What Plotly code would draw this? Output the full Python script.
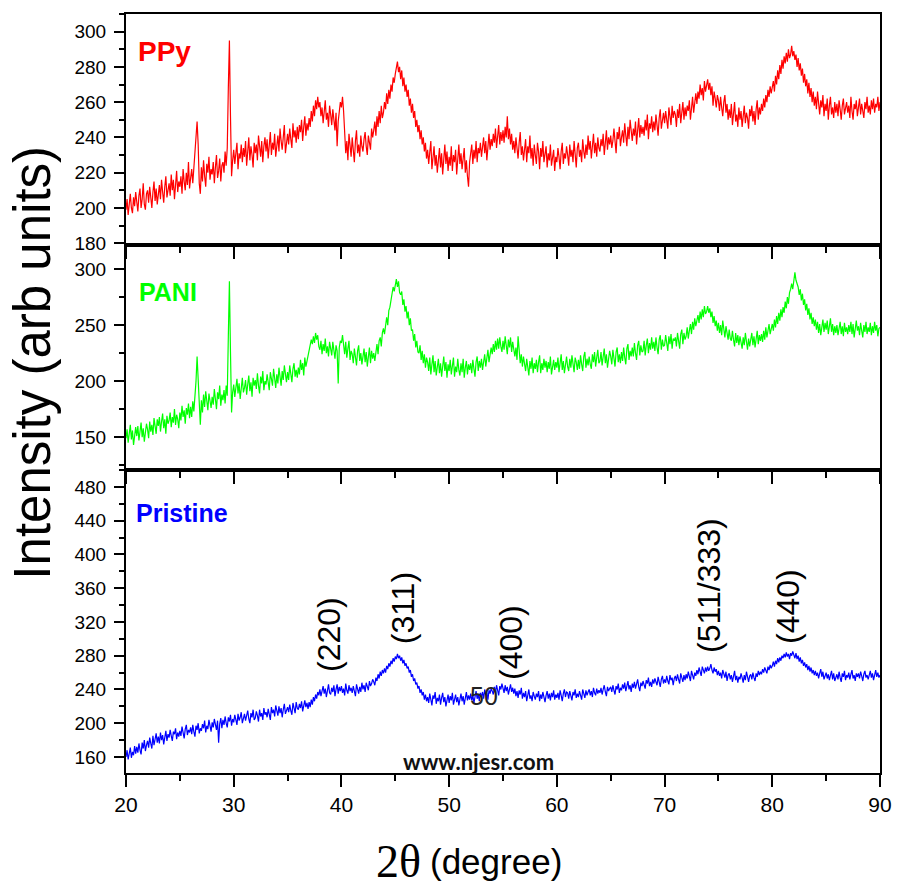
import numpy as np
import plotly.graph_objects as go

# Scan axis (2-theta, degrees), 0.1 degree step
two_theta = np.round(np.arange(20.0, 90.0001, 0.1), 1)

# PPy-coated sample (one row per degree)
ppy = [
    199, 205, 196, 203, 208, 200, 197, 206, 201, 209,
    203, 198, 207, 211, 200, 205, 214, 202, 199, 208,
    210, 203, 212, 205, 200, 209, 215, 204, 211, 202,
    207, 213, 205, 216, 209, 203, 212, 218, 206, 211,
    214, 207, 219, 210, 216, 205, 213, 221, 209, 215,
    212, 218, 208, 222, 215, 210, 220, 213, 226, 211,
    217, 222, 214, 224, 231, 243, 249, 236, 214, 208,
    223, 215, 227, 218, 212, 225, 220, 229, 216, 222,
    219, 226, 214, 223, 230, 217, 221, 228, 215, 224,
    226, 220, 232, 224, 234, 268, 295, 252, 218, 227,
    233, 225, 230, 237, 222, 231, 228, 236, 226, 234,
    229, 238, 224, 232, 240, 227, 235, 230, 223, 237,
    231, 236, 227, 241, 233, 229, 238, 226, 235, 240,
    232, 239, 228, 236, 243, 230, 237, 233, 242, 229,
    236, 241, 232, 245, 238, 233, 240, 247, 231, 239,
    242, 236, 245, 239, 234, 248, 240, 244, 237, 246,
    239, 247, 243, 250, 238, 246, 252, 241, 248, 244,
    251, 246, 255, 249, 258, 252, 261, 256, 263, 257,
    260, 252, 257, 248, 255, 261, 250, 254, 246, 258,
    253, 247, 256, 250, 244, 254, 235, 249, 255, 260,
    257, 263, 255, 241, 231, 238, 227, 242, 234, 229,
    240, 233, 226, 238, 244, 231, 236, 229, 241, 235,
    232, 239, 243, 235, 230, 241, 237, 233, 245, 240,
    244, 249, 241, 252, 246, 255, 248, 258, 251, 254,
    260, 256, 265, 259, 267, 262, 270, 266, 274, 271,
    276, 279, 283, 277, 280, 273, 278, 269, 274, 266,
    270, 263, 267, 258, 262, 254, 259, 251, 255, 246,
    250, 243, 247, 239, 244, 236, 240, 232, 237, 228,
    233, 225, 231, 238, 222, 229, 235, 224, 230, 220,
    227, 234, 223, 231, 219, 228, 236, 225, 232, 221,
    229, 224, 235, 221, 230, 226, 233, 219, 228, 236,
    225, 231, 222, 229, 234, 220, 227, 218, 212, 226,
    230, 236, 225, 233, 228, 238, 226, 234, 231, 237,
    229, 235, 240, 231, 238, 227, 236, 242, 233, 239,
    235, 242, 237, 245, 234, 240, 247, 236, 243, 238,
    244, 237, 246, 240, 252, 239, 245, 236, 242, 233,
    238, 231, 240, 234, 228, 237, 243, 230, 235, 227,
    233, 239, 226, 235, 231, 241, 228, 234, 224, 236,
    230, 225, 237, 232, 222, 234, 229, 238, 226, 231,
    235, 223, 231, 227, 236, 224, 230, 233, 221, 229,
    226, 234, 229, 222, 232, 237, 225, 231, 228, 235,
    230, 224, 236, 229, 233, 226, 238, 231, 223, 234,
    237, 229, 233, 226, 239, 232, 228, 236, 230, 241,
    233, 238, 228, 235, 242, 231, 237, 229, 240, 234,
    232, 239, 235, 242, 230, 237, 244, 233, 240, 236,
    241, 234, 238, 245, 236, 231, 243, 239, 246, 235,
    240, 244, 237, 248, 241, 235, 246, 239, 250, 243,
    238, 245, 241, 249, 236, 244, 251, 240, 247, 242,
    246, 241, 250, 244, 253, 239, 248, 245, 252, 243,
    249, 244, 253, 247, 241, 251, 256, 245, 250, 254,
    248, 255, 250, 245, 257, 252, 247, 258, 251, 255,
    253, 246, 256, 251, 259, 248, 254, 260, 250, 257,
    252, 258, 255, 261, 250, 257, 263, 254, 260, 265,
    259, 266, 262, 270, 264, 268, 261, 272, 266, 270,
    273, 267, 271, 264, 269, 258, 266, 262, 257, 264,
    261, 255, 263, 257, 252, 260, 264, 254, 259, 250,
    256, 251, 259, 247, 255, 260, 249, 253, 246, 257,
    250, 255, 246, 253, 258, 248, 254, 251, 245, 256,
    252, 258, 249, 255, 247, 256, 261, 250, 257, 253,
    259, 255, 262, 257, 264, 260, 267, 263, 269, 265,
    268, 272, 266, 275, 270, 278, 273, 281, 276, 284,
    279, 286, 282, 288, 283, 290, 285, 287, 292, 286,
    289, 284, 287, 280, 285, 278, 282, 275, 279, 271,
    276, 269, 273, 265, 271, 263, 268, 260, 266, 258,
    263, 256, 266, 259, 253, 261, 257, 264, 252, 259,
    255, 262, 250, 258, 263, 253, 257, 251, 260, 254,
    259, 252, 261, 256, 250, 258, 262, 253, 257, 260,
    254, 258, 251, 263, 255, 250, 259, 256, 261, 252,
    257, 262, 253, 259, 255, 251, 260, 256, 263, 254,
    258, 253, 261, 256, 262, 254, 259, 257, 263, 255,
    260,
]

# PANI-coated sample (one row per degree)
pani = [
    149, 157, 145, 154, 161, 148, 156, 143, 152, 159,
    151, 160, 147, 156, 163, 150, 158, 146, 155, 162,
    157, 149, 164, 155, 161, 152, 167, 158, 153, 166,
    160, 168, 155, 164, 171, 158, 166, 153, 169, 162,
    165, 172, 159, 168, 163, 175, 161, 170, 166, 158,
    172, 165, 178, 168, 174, 162, 176, 170, 180, 167,
    177, 168, 182, 173, 185, 200, 222, 205, 178, 161,
    183, 172, 188, 177, 191, 180, 174, 189, 182, 176,
    186, 179, 193, 181, 175, 190, 184, 196, 178, 188,
    183, 192, 180, 196, 187, 240, 289, 226, 172, 190,
    197, 186, 193, 202, 189, 198, 184, 195, 203, 190,
    194, 201, 188, 197, 205, 191, 199, 186, 203, 196,
    201, 193, 207, 196, 189, 204, 198, 209, 192, 200,
    197, 206, 199, 192, 208, 201, 196, 211, 203, 194,
    206, 198, 212, 203, 196, 209, 201, 214, 205, 199,
    208, 201, 214, 206, 199, 211, 216, 204, 210, 203,
    212, 206, 219, 210, 216, 205, 221, 213, 218, 224,
    226, 231, 237, 233, 240, 234, 243, 237, 241, 231,
    228, 236, 224, 233, 227, 238, 225, 231, 222, 235,
    229, 223, 235, 226, 220, 232, 227, 198, 230, 236,
    234, 241, 230, 224, 235, 221, 229, 236, 219, 227,
    224, 216, 229, 221, 214, 227, 232, 218, 225, 215,
    222, 229, 217, 226, 213, 224, 230, 216, 227, 220,
    225, 218, 229, 233, 224, 236, 239, 231, 243, 247,
    242, 252, 257, 250, 263, 266, 273, 276, 284, 280,
    287, 291, 284, 289, 279, 277, 280, 268, 273, 262,
    267, 256, 262, 250, 256, 245, 246, 236, 242, 230,
    236, 226, 225, 232, 219, 227, 216, 224, 212, 221,
    217, 209, 221, 206, 215, 223, 208, 218, 205, 214,
    220, 207, 216, 204, 213, 222, 209, 217, 203, 215,
    209, 219, 206, 215, 221, 204, 213, 208, 220, 210,
    205, 216, 208, 220, 203, 212, 218, 206, 215, 210,
    216, 207, 219, 211, 204, 217, 222, 209, 218, 212,
    220, 210, 217, 224, 213, 221, 228, 217, 225, 230,
    224, 233, 226, 236, 228, 238, 229, 239, 231, 226,
    236, 228, 240, 231, 224, 237, 230, 239, 226, 235,
    229, 222, 230, 219, 240, 225, 216, 224, 213, 222,
    215, 209, 220, 212, 205, 218, 211, 221, 207, 216,
    211, 219, 208, 217, 223, 207, 216, 210, 220, 212,
    218, 208, 217, 211, 222, 206, 215, 219, 210, 217,
    212, 221, 208, 217, 224, 210, 218, 207, 216, 222,
    213, 209, 220, 212, 223, 216, 208, 221, 217, 210,
    219, 211, 223, 215, 209, 222, 226, 212, 220, 214,
    222, 215, 211, 224, 217, 226, 213, 221, 228, 216,
    218, 226, 214, 222, 229, 216, 224, 212, 221, 227,
    222, 215, 228, 219, 213, 226, 230, 217, 224, 216,
    226, 218, 230, 221, 215, 229, 233, 219, 227, 222,
    230, 222, 234, 225, 219, 232, 236, 223, 232, 226,
    227, 236, 223, 232, 238, 225, 234, 228, 239, 229,
    235, 227, 239, 230, 224, 237, 241, 228, 237, 231,
    232, 241, 234, 227, 240, 233, 242, 229, 238, 236,
    239, 231, 243, 235, 229, 242, 246, 233, 243, 237,
    240, 248, 238, 245, 251, 242, 253, 246, 256, 249,
    253, 259, 252, 262, 255, 264, 257, 267, 260, 262,
    267, 261, 265, 257, 262, 252, 258, 249, 254, 245,
    252, 243, 250, 241, 254, 245, 239, 249, 243, 237,
    246, 238, 236, 245, 237, 231, 243, 234, 241, 232,
    240, 233, 229, 239, 232, 243, 235, 228, 238, 231,
    237, 243, 232, 240, 230, 239, 245, 233, 241, 236,
    242, 235, 245, 237, 248, 239, 245, 251, 242, 248,
    251, 245, 255, 248, 258, 251, 261, 254, 264, 257,
    266, 261, 271, 265, 275, 269, 279, 282, 287, 282,
    290, 297, 290, 286, 284, 277, 282, 272, 278, 268,
    273, 263, 269, 259, 265, 255, 261, 251, 257, 249,
    255, 246, 253, 243, 251, 241, 249, 255, 244, 252,
    246, 254, 242, 250, 256, 244, 251, 241, 249, 243,
    250, 241, 248, 253, 242, 249, 240, 252, 244, 248,
    242, 250, 244, 253, 242, 251, 239, 248, 254, 245,
    249, 241, 252, 245, 239, 250, 244, 253, 242, 248,
    244, 252, 241, 249, 243, 253, 245, 250, 240, 247,
    248,
]

# Pristine sample (one row per degree)
pristine = [
    160, 168, 157, 165, 171, 159, 166, 162, 173, 164,
    172, 165, 176, 168, 163, 177, 170, 180, 167, 174,
    179, 171, 183, 176, 170, 185, 174, 181, 188, 177,
    184, 176, 189, 180, 186, 175, 183, 191, 179, 187,
    183, 192, 185, 179, 190, 187, 194, 181, 189, 184,
    191, 185, 196, 188, 182, 193, 198, 186, 192, 189,
    195, 187, 198, 190, 184, 197, 192, 200, 188, 194,
    191, 199, 194, 203, 189, 197, 193, 204, 196, 190,
    201, 195, 205, 197, 192, 203, 177, 199, 206, 194,
    204, 198, 208, 200, 195, 207, 202, 210, 197, 205,
    201, 210, 204, 198, 211, 203, 207, 213, 200, 208,
    211, 203, 209, 215, 205, 200, 212, 207, 216, 204,
    206, 214, 209, 202, 216, 208, 212, 204, 218, 210,
    213, 207, 217, 210, 204, 219, 212, 216, 208, 221,
    215, 209, 220, 212, 218, 207, 216, 223, 211, 214,
    219, 213, 222, 215, 210, 224, 217, 212, 225, 218,
    216, 223, 218, 226, 214, 221, 227, 219, 224, 217,
    225, 219, 228, 222, 231, 226, 234, 229, 237, 233,
    240, 232, 238, 244, 235, 241, 231, 239, 246, 236,
    234, 242, 237, 245, 232, 240, 246, 235, 243, 238,
    244, 236, 241, 233, 247, 239, 235, 245, 238, 242,
    236, 244, 239, 232, 246, 240, 235, 243, 237, 248,
    240, 245, 237, 248, 242, 239, 250, 244, 247, 252,
    249, 245, 254, 250, 258, 253, 261, 256, 263, 259,
    265, 260, 268, 264, 271, 267, 274, 270, 277, 273,
    279, 276, 282, 277, 280, 274, 278, 271, 275, 268,
    271, 265, 267, 260, 263, 255, 258, 250, 253, 246,
    248, 241, 244, 236, 240, 233, 237, 228, 234, 226,
    231, 224, 235, 227, 221, 233, 229, 237, 223, 230,
    226, 234, 222, 230, 236, 225, 231, 220, 229, 234,
    224, 232, 227, 236, 222, 229, 234, 225, 231, 221,
    229, 235, 226, 232, 222, 230, 237, 227, 233, 228,
    235, 227, 233, 224, 231, 238, 229, 234, 226, 236,
    231, 237, 229, 240, 233, 236, 228, 239, 235, 241,
    238, 234, 243, 236, 245, 239, 233, 244, 240, 247,
    241, 236, 245, 238, 243, 234, 240, 246, 237, 242,
    235, 241, 232, 238, 230, 239, 234, 242, 229, 236,
    231, 238, 226, 235, 240, 229, 233, 226, 237, 232,
    228, 235, 231, 238, 226, 234, 229, 237, 232, 225,
    233, 238, 229, 235, 227, 236, 231, 239, 228, 234,
    230, 236, 228, 239, 233, 226, 235, 240, 231, 237,
    236, 229, 238, 232, 227, 237, 233, 240, 230, 235,
    231, 238, 234, 228, 240, 235, 230, 239, 233, 237,
    240, 233, 238, 231, 242, 236, 233, 241, 235, 239,
    236, 242, 234, 240, 245, 237, 232, 243, 238, 241,
    243, 237, 245, 239, 234, 244, 240, 247, 236, 242,
    239, 246, 241, 248, 238, 244, 250, 240, 245, 237,
    247, 242, 249, 241, 246, 252, 243, 238, 248, 244,
    250, 245, 241, 251, 247, 254, 244, 249, 243, 252,
    247, 253, 249, 245, 255, 248, 243, 252, 256, 247,
    252, 248, 256, 250, 246, 257, 251, 254, 245, 253,
    256, 250, 258, 252, 247, 259, 254, 249, 257, 251,
    258, 253, 261, 255, 250, 262, 257, 252, 260, 256,
    263, 258, 266, 260, 256, 267, 262, 259, 266, 261,
    267, 262, 265, 270, 263, 259, 266, 261, 264, 257,
    262, 256, 260, 253, 263, 258, 254, 261, 250, 257,
    259, 252, 257, 249, 258, 262, 251, 256, 248, 255,
    252, 259, 254, 248, 257, 251, 261, 253, 249, 256,
    258, 252, 260, 254, 250, 259, 255, 262, 257, 261,
    258, 264, 260, 266, 262, 259, 267, 263, 269, 265,
    268, 273, 267, 274, 270, 277, 272, 278, 274, 280,
    277, 282, 278, 284, 279, 282, 276, 283, 280, 285,
    281, 277, 283, 276, 280, 273, 278, 271, 275, 268,
    272, 266, 270, 263, 268, 261, 266, 259, 263, 257,
    262, 256, 260, 253, 259, 264, 255, 261, 252, 258,
    260, 253, 258, 251, 257, 262, 252, 259, 250, 256,
    258, 252, 261, 254, 249, 259, 255, 262, 251, 257,
    254, 260, 252, 258, 263, 253, 257, 250, 259, 255,
    259, 253, 261, 256, 250, 258, 262, 254, 257, 252,
    257, 262, 254, 259, 251, 258, 263, 255, 260, 254,
    257,
]

panel_names = ["PPy", "PANI", "Pristine"]
panel_colors = ["#FF0000", "#00FF00", "#0000FF"]

# Miller indices of the spinel reflections marked on the pristine pattern
hkl_labels = ["(220)", "(311)", "(400)", "(511/333)", "(440)"]
hkl_pos = [38.85, 45.74, 55.75, 74.11, 81.46]
hkl_lab_y = [304.6, 336.5, 295.1, 363.7, 337.7]

SANS = "Liberation Sans, Arial, sans-serif"

fig = go.Figure()
for series, xa, ya, col in [(pristine, "x", "y", panel_colors[2]),
                            (pani, "x2", "y2", panel_colors[1]),
                            (ppy, "x3", "y3", panel_colors[0])]:
    fig.add_trace(go.Scatter(x=two_theta[:len(series)], y=series, xaxis=xa, yaxis=ya,
                             mode="lines", line=dict(color=col, width=1.2),
                             showlegend=False, hoverinfo="skip"))

frame = dict(showline=True, linewidth=2, linecolor="black", mirror=True,
             showgrid=False, zeroline=False, ticks="outside",
             tickwidth=2, tickcolor="black")

def x_axis(anchor, labels):
    return dict(frame, range=[20, 90], tick0=20, dtick=10, ticklen=12,
                anchor=anchor, showticklabels=labels,
                tickfont=dict(family=SANS, size=21, color="black"),
                minor=dict(dtick=5, ticks="outside", ticklen=6, tickwidth=2,
                           tickcolor="black", showgrid=False))

def y_axis(rng, major, minor, dom, anchor):
    return dict(frame, range=rng, dtick=major, tick0=0, ticklen=10,
                domain=dom, anchor=anchor, ticklabelstandoff=4,
                tickfont=dict(family=SANS, size=19, color="black"),
                minor=dict(dtick=minor, ticks="outside", ticklen=5, tickwidth=2,
                           tickcolor="black", showgrid=False))

d_bot = [0.0, 0.3992]
d_mid = [0.3992, 0.6957]
d_top = [0.6957, 1.0]

fig.update_layout(
    width=904, height=888,
    margin=dict(l=126, r=15, t=14, b=115),
    paper_bgcolor="white", plot_bgcolor="white",
    xaxis=x_axis("y", True),
    xaxis2=x_axis("y2", False),
    xaxis3=x_axis("y3", False),
    yaxis=y_axis([141, 500], 40, 20, d_bot, "x"),
    yaxis2=y_axis([120.7, 321.5], 50, 25, d_mid, "x2"),
    yaxis3=y_axis([179, 310], 20, 10, d_top, "x3"),
)

ann = []
# Panel names
for name, col, xp, yp, fs in [("PPy", panel_colors[0], 0.013, 0.951, 28),
                              ("PANI", panel_colors[1], 0.014, 0.634, 25),
                              ("Pristine", panel_colors[2], 0.010, 0.343, 25)]:
    ann.append(dict(text="<b>" + name + "</b>", xref="paper", yref="paper",
                    x=xp, y=yp, xanchor="left", yanchor="middle", showarrow=False,
                    font=dict(family=SANS, size=fs, color=col)))

# Reflection labels
for lab, xv, yv in zip(hkl_labels, hkl_pos, hkl_lab_y):
    ann.append(dict(text=lab, xref="x", yref="y", x=xv, y=yv, textangle=-90,
                    xanchor="center", yanchor="middle", showarrow=False,
                    font=dict(family=SANS, size=32, color="black")))

ann.append(dict(text="50", xref="x", yref="y", x=53.2, y=232.5,
                xanchor="center", yanchor="middle", showarrow=False,
                font=dict(family=SANS, size=25, color="#222222")))

ann.append(dict(text="<b>www.njesr.com</b>", xref="paper", yref="paper",
                x=0.468, y=0.0145, xanchor="center", yanchor="middle",
                showarrow=False, font=dict(family="Lato, Open Sans, sans-serif",
                                           size=22, color="#111111")))

# Axis titles
ann.append(dict(text="Intensity (arb units)", xref="paper", yref="paper",
                x=-0.124, y=0.540, textangle=-90, xanchor="center", yanchor="middle",
                showarrow=False, font=dict(family=SANS, size=51, color="black")))
ann.append(dict(text="2\u03b8", xref="paper", yref="paper",
                x=0.394, y=-0.117, xanchor="right", yanchor="middle", showarrow=False,
                font=dict(family="Liberation Serif, Times New Roman, serif", size=46,
                          color="black")))
ann.append(dict(text="(degree)", xref="paper", yref="paper",
                x=0.401, y=-0.117, xanchor="left", yanchor="middle", showarrow=False,
                font=dict(family=SANS, size=35, color="black")))

fig.update_layout(annotations=ann)

fig.write_html("out.html")
